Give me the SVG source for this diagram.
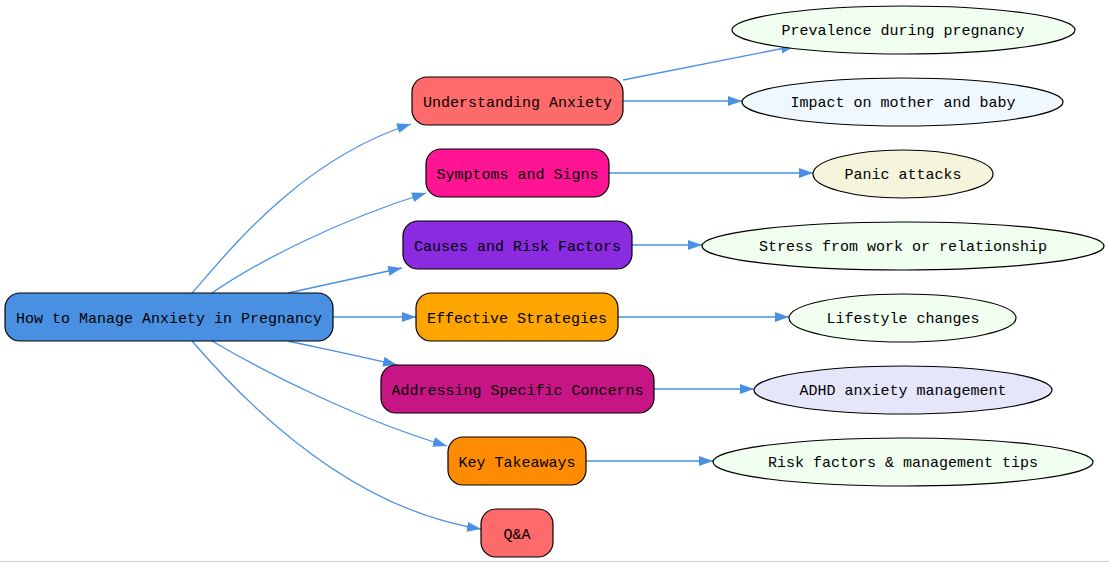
<svg xmlns="http://www.w3.org/2000/svg" width="1109" height="563" viewBox="0 0 1109 563">
<style>
.box{stroke:#000;stroke-width:1.2}
.ell{stroke:#000;stroke-width:1.2}
.t{font-family:"Liberation Mono",monospace;font-size:15px;text-anchor:middle;dominant-baseline:central;fill:#000}
.e{fill:none;stroke:#4A90E2;stroke-width:1.3}
</style>
<defs>
<marker id="arr" markerUnits="userSpaceOnUse" markerWidth="16" markerHeight="12" refX="14" refY="5" orient="auto">
<path d="M0,0 L14,5 L0,10 Z" fill="#4A90E2"/>
</marker>
</defs>
<rect width="1109" height="563" fill="#fff"/>
<line x1="0" y1="561.5" x2="1109" y2="561.5" stroke="#ccc" stroke-width="1"/>
<g id="edges">
<path class="e" marker-end="url(#arr)" d="M192,293 C230,250 300,160 411,124"/>
<path class="e" marker-end="url(#arr)" d="M212,293 C260,260 340,220 426,193"/>
<path class="e" marker-end="url(#arr)" d="M288,293 C320,286 360,277 402,268"/>
<path class="e" marker-end="url(#arr)" d="M333,317 L416,317"/>
<path class="e" marker-end="url(#arr)" d="M288,341 C320,348 360,356 397,365"/>
<path class="e" marker-end="url(#arr)" d="M212,341 C270,375 360,420 447,446"/>
<path class="e" marker-end="url(#arr)" d="M192,341 C260,420 360,510 481,529"/>
<path class="e" marker-end="url(#arr)" d="M623,80 L795,46"/>
<path class="e" marker-end="url(#arr)" d="M623,101 L742,101"/>
<path class="e" marker-end="url(#arr)" d="M609,173 L813,173"/>
<path class="e" marker-end="url(#arr)" d="M632,245 L702,245"/>
<path class="e" marker-end="url(#arr)" d="M618,317 L789,317"/>
<path class="e" marker-end="url(#arr)" d="M654,389 L754,389"/>
<path class="e" marker-end="url(#arr)" d="M586,461 L713,461"/>
</g>
<g id="root"><rect class="box" x="5" y="293" width="328" height="48" rx="15" fill="#4A90E2"/><text class="t" x="169" y="319">How to Manage Anxiety in Pregnancy</text></g>
<g id="understanding"><rect class="box" x="412" y="77" width="211" height="48" rx="15" fill="#FF6B6B"/><text class="t" x="517.5" y="103">Understanding Anxiety</text></g>
<g id="symptoms"><rect class="box" x="426" y="149" width="183" height="48" rx="15" fill="#FF1493"/><text class="t" x="517.5" y="175">Symptoms and Signs</text></g>
<g id="causes"><rect class="box" x="403" y="221" width="229" height="48" rx="15" fill="#8A2BE2"/><text class="t" x="517.5" y="247">Causes and Risk Factors</text></g>
<g id="strategies"><rect class="box" x="416" y="293" width="202" height="48" rx="15" fill="#FFA500"/><text class="t" x="517" y="319">Effective Strategies</text></g>
<g id="concerns"><rect class="box" x="381" y="365" width="273" height="48" rx="15" fill="#C71585"/><text class="t" x="517.5" y="391">Addressing Specific Concerns</text></g>
<g id="takeaways"><rect class="box" x="448" y="437" width="138" height="48" rx="15" fill="#FF8C00"/><text class="t" x="517" y="463">Key Takeaways</text></g>
<g id="qa"><rect class="box" x="481" y="509" width="72" height="48" rx="15" fill="#FF6B6B"/><text class="t" x="517" y="535">Q&amp;A</text></g>
<g id="prevalence"><ellipse class="ell" cx="903.5" cy="30" rx="171.5" ry="24" fill="#F0FFF0"/><text class="t" x="903" y="31">Prevalence during pregnancy</text></g>
<g id="impact"><ellipse class="ell" cx="902.5" cy="102" rx="160.5" ry="24" fill="#F0F8FF"/><text class="t" x="903" y="103">Impact on mother and baby</text></g>
<g id="panic"><ellipse class="ell" cx="903" cy="174" rx="90" ry="24" fill="#F5F5DC"/><text class="t" x="903" y="175">Panic attacks</text></g>
<g id="stress"><ellipse class="ell" cx="903" cy="246" rx="201" ry="24" fill="#F0FFF0"/><text class="t" x="903" y="247">Stress from work or relationship</text></g>
<g id="lifestyle"><ellipse class="ell" cx="902.5" cy="318" rx="113.5" ry="24" fill="#F0FFF0"/><text class="t" x="903" y="319">Lifestyle changes</text></g>
<g id="adhd"><ellipse class="ell" cx="903" cy="390" rx="149" ry="24" fill="#E6E6FA"/><text class="t" x="903" y="391">ADHD anxiety management</text></g>
<g id="risk"><ellipse class="ell" cx="903" cy="462" rx="190" ry="24" fill="#F0FFF0"/><text class="t" x="903" y="463">Risk factors &amp; management tips</text></g>
</svg>
